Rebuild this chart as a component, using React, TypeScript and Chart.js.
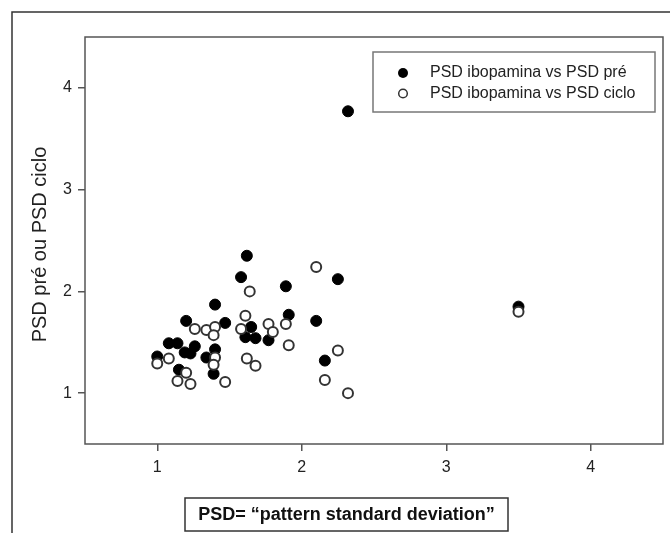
import React, { useEffect, useRef } from "react";
import { Chart, registerables } from "chart.js";

Chart.register(...registerables);

// PSD ibopamina (x) vs PSD pré (y) — filled points
const preX = [1.62, 1.58, 1.89, 2.25, 1.40, 1.20, 1.47, 1.91, 2.10, 1.65, 1.61, 1.68, 1.77, 1.08, 1.14, 1.26, 1.19, 1.23, 1.40, 1.34, 1.00, 1.15, 1.39, 2.16, 2.32, 3.50];
const preY = [2.35, 2.14, 2.05, 2.12, 1.87, 1.71, 1.69, 1.77, 1.71, 1.65, 1.55, 1.54, 1.52, 1.49, 1.49, 1.46, 1.40, 1.39, 1.43, 1.35, 1.36, 1.23, 1.19, 1.32, 3.77, 1.85];

// PSD ibopamina (x) vs PSD ciclo (y) — open points
const cicloX = [2.10, 1.64, 1.61, 1.26, 1.34, 1.40, 1.39, 1.58, 1.77, 1.80, 1.89, 1.91, 1.00, 1.08, 1.40, 1.39, 1.20, 1.14, 1.23, 1.47, 1.62, 1.68, 2.25, 2.16, 2.32, 3.50];
const cicloY = [2.24, 2.00, 1.76, 1.63, 1.62, 1.65, 1.57, 1.63, 1.68, 1.60, 1.68, 1.47, 1.29, 1.34, 1.35, 1.28, 1.20, 1.12, 1.09, 1.11, 1.34, 1.27, 1.42, 1.13, 1.00, 1.80];

const xTickValues = [1, 2, 3, 4];
const yTickValues = [1, 2, 3, 4];
const seriesLabels = ["PSD ibopamina vs PSD pré", "PSD ibopamina vs PSD ciclo"];
const yAxisTitle = "PSD pré ou PSD ciclo";
const footnoteText = "PSD= \u201Cpattern standard deviation\u201D";

const FONT = "'Liberation Sans', Arial, Helvetica, sans-serif";

export default function App() {
  const ref = useRef<HTMLCanvasElement>(null);

  useEffect(() => {
    const canvas = ref.current;
    if (!canvas) return;

    const framePlugin = {
      id: "framePlugin",
      beforeDraw(chart: any) {
        const ctx = chart.ctx;
        ctx.save();
        ctx.fillStyle = "#ffffff";
        ctx.fillRect(0, 0, chart.width, chart.height);
        ctx.restore();
      },
      afterDraw(chart: any) {
        const ctx = chart.ctx as CanvasRenderingContext2D;
        const a = chart.chartArea;
        ctx.save();
        // outer frame
        ctx.strokeStyle = "#333";
        ctx.lineWidth = 1.5;
        ctx.beginPath();
        ctx.moveTo(12, chart.height);
        ctx.lineTo(12, 12);
        ctx.lineTo(chart.width, 12);
        ctx.stroke();
        // plot box
        ctx.strokeStyle = "#555";
        ctx.lineWidth = 1.5;
        ctx.strokeRect(a.left, a.top, a.right - a.left, a.bottom - a.top);

        // y axis title
        ctx.save();
        ctx.translate(40, (a.top + a.bottom) / 2 + 4);
        ctx.rotate(-Math.PI / 2);
        ctx.fillStyle = "#222";
        ctx.font = `20px ${FONT}`;
        ctx.textAlign = "center";
        ctx.textBaseline = "middle";
        ctx.fillText(yAxisTitle, 0, 0);
        ctx.restore();

        // legend
        ctx.strokeStyle = "#777";
        ctx.lineWidth = 1.5;
        ctx.strokeRect(373, 52, 282, 60);
        ctx.fillStyle = "#000";
        ctx.beginPath();
        ctx.arc(403, 73, 5, 0, Math.PI * 2);
        ctx.fill();
        ctx.fillStyle = "#fff";
        ctx.strokeStyle = "#333";
        ctx.lineWidth = 1.5;
        ctx.beginPath();
        ctx.arc(403, 93.5, 4.3, 0, Math.PI * 2);
        ctx.fill();
        ctx.stroke();
        ctx.fillStyle = "#222";
        ctx.font = `16px ${FONT}`;
        ctx.textBaseline = "middle";
        ctx.textAlign = "left";
        const ds = chart.data.datasets;
        ctx.fillText(ds[0].label, 430, 73);
        ctx.fillText(ds[1].label, 430, 94);

        // footnote
        ctx.strokeStyle = "#333";
        ctx.lineWidth = 1.5;
        ctx.strokeRect(185, 498, 323, 33);
        ctx.fillStyle = "#111";
        ctx.font = `bold 18px ${FONT}`;
        ctx.textAlign = "center";
        ctx.fillText(footnoteText, 346.5, 515);
        ctx.restore();
      },
    };

    const tickFont = { family: FONT, size: 16 };

    const chart = new Chart(canvas, {
      type: "scatter",
      data: {
        datasets: [
          {
            label: seriesLabels[0],
            data: preX.map((x, i) => ({ x, y: preY[i] })),
            pointRadius: 5.5,
            pointBackgroundColor: "#000",
            pointBorderColor: "#000",
            pointBorderWidth: 1,
            order: 2,
          },
          {
            label: seriesLabels[1],
            data: cicloX.map((x, i) => ({ x, y: cicloY[i] })),
            pointRadius: 5,
            pointBackgroundColor: "#fff",
            pointBorderColor: "#333",
            pointBorderWidth: 2,
            order: 1,
          },
        ],
      },
      options: {
        responsive: false,
        animation: false,
        devicePixelRatio: 1,
        layout: { padding: { left: 0, right: 2, top: 37, bottom: 0 } },
        plugins: {
          legend: { display: false },
          tooltip: { enabled: false },
        },
        scales: {
          x: {
            type: "linear",
            min: 0.5,
            max: 4.5,
            afterBuildTicks: (scale: any) => {
              scale.ticks = xTickValues.map((v) => ({ value: v }));
            },
            afterFit: (scale: any) => {
              scale.height = 89;
            },
            border: { display: false },
            grid: {
              drawOnChartArea: false,
              drawTicks: true,
              tickLength: 7,
              color: "#555",
              lineWidth: 1.5,
            },
            ticks: {
              font: tickFont,
              color: "#222",
              padding: 7,
              maxRotation: 0,
              callback: (v: any) => String(v),
            },
          },
          y: {
            type: "linear",
            min: 0.5,
            max: 4.5,
            afterBuildTicks: (scale: any) => {
              scale.ticks = yTickValues.map((v) => ({ value: v }));
            },
            afterFit: (scale: any) => {
              scale.width = 85;
            },
            border: { display: false },
            grid: {
              drawOnChartArea: false,
              drawTicks: true,
              tickLength: 7,
              color: "#555",
              lineWidth: 1.5,
            },
            ticks: {
              font: tickFont,
              color: "#222",
              padding: 6,
              callback: (v: any) => String(v),
            },
          },
        },
      },
      plugins: [framePlugin],
    } as any);

    return () => chart.destroy();
  }, []);

  return (
    <div style={{ position: "absolute", left: 0, top: 0, width: 670, height: 533, background: "#fff" }}>
      <canvas ref={ref} width={670} height={533} style={{ width: 670, height: 533, display: "block" }} />
    </div>
  );
}
